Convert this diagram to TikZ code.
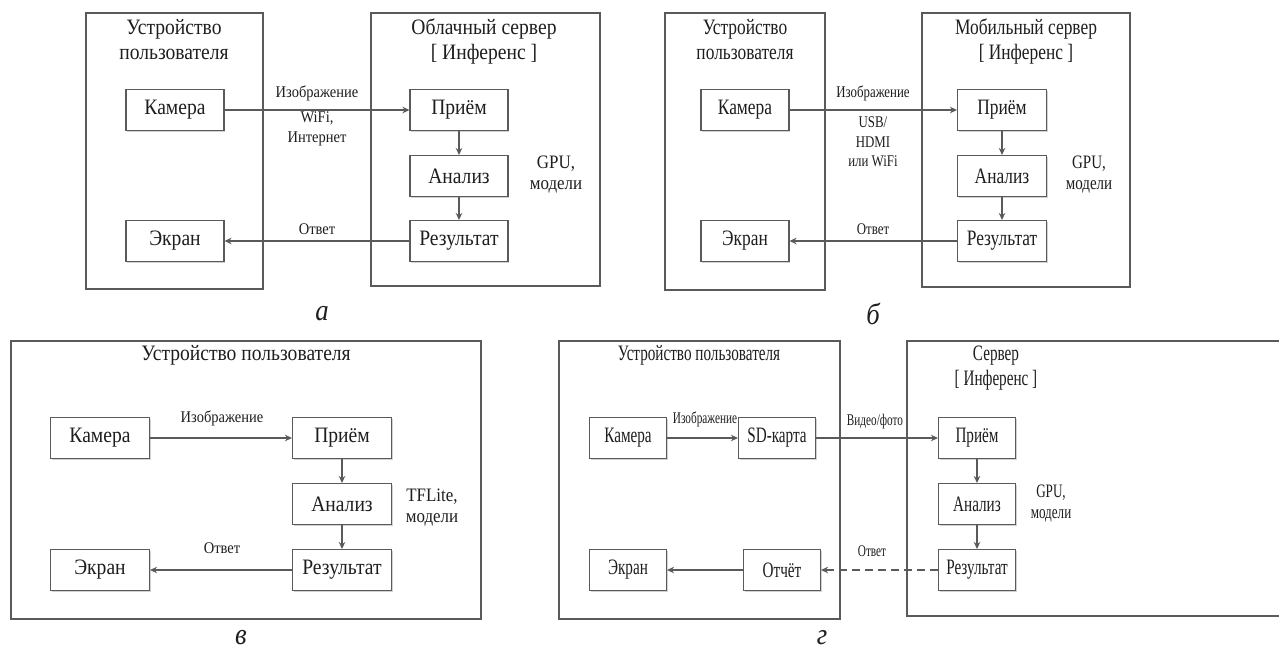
\documentclass[tikz,border=0pt]{standalone}
\usepackage{fontspec}
\setmainfont{Liberation Serif}[FakeStretch=0.89]
\newfontfamily\afam{Liberation Serif}[FakeStretch=0.89]
\newfontfamily\bfam{Liberation Serif}[FakeStretch=0.79]
\newfontfamily\gfam{Liberation Serif}[FakeStretch=0.69]
\usetikzlibrary{arrows.meta,shadows}
\definecolor{ln}{HTML}{5A5A5A}
\definecolor{tx}{HTML}{1E1E1E}
\let\pfam\afam
\tikzset{
  base/.style={draw=ln, line width=1.1pt, fill=white, inner sep=0pt,
    drop shadow={shadow xshift=1.2pt, shadow yshift=-1.2pt, fill=black!35, opacity=0.5}},
  box/.style={base, minimum height=41pt, text=tx, font=\pfam\fontsize{22}{24}\selectfont},
  frame/.style={base},
  ttl/.style={text=tx, align=center, font=\pfam\fontsize{22}{25}\selectfont},
  lbl/.style={text=tx, align=center, inner sep=0pt, font=\pfam\fontsize{16.3}{19.5}\selectfont},
  side/.style={text=tx, align=center, inner sep=0pt, font=\pfam\fontsize{19}{21}\selectfont},
  capt/.style={text=tx, font=\afam\fontsize{30}{32}\selectfont\itshape},
  arr/.style={draw=ln, line width=1.1pt, -{Stealth[length=7pt,width=6.5pt]}},
  dsh/.style={arr, dash pattern=on 8pt off 5pt},
}
\begin{document}
\begin{tikzpicture}[x=1pt,y=-1pt]
\useasboundingbox (0,0) rectangle (1279,653);
\clip (0,0) rectangle (1279,653);
\fill[white] (0,0) rectangle (1279,653);

% ---------- panel a ----------
\begin{scope}
\node[frame, minimum width=177pt, minimum height=276pt] (aU) at (174.5,151) {};
\node[frame, minimum width=229pt, minimum height=273pt] (aS) at (485.5,149.5) {};
\node[ttl] (aUt) at (174,40) {Устройство\\пользователя};
\node[ttl] (aSt) at (484,41) {Облачный сервер\\{[} Инференс {]}};
\node[box, minimum width=98pt] (acam) at (175,110) {Камера};
\node[box, minimum width=98pt] (ascr) at (175,241) {Экран};
\node[box, minimum width=98pt] (arec) at (459,110) {Приём};
\node[box, minimum width=98pt] (aana) at (459,176) {Анализ};
\node[box, minimum width=98pt] (ares) at (459,241) {Результат};
\draw[arr] (acam) -- (arec);
\draw[arr] (arec) -- (aana);
\draw[arr] (aana) -- (ares);
\draw[arr] (ares) -- (ascr);
\node[lbl] (al1) at (317,93) {Изображение};
\node[lbl] (al2) at (317,129) {WiFi,\\Интернет};
\node[lbl] (al3) at (317,229) {Ответ};
\node[side] (al4) at (556,175) {GPU,\\модели};
\node[capt] (acap) at (322,314) {а};
\end{scope}

% ---------- panel b ----------
\begin{scope}
\let\pfam\bfam
\node[frame, minimum width=160pt, minimum height=277pt] (bU) at (745,151.5) {};
\node[frame, minimum width=208pt, minimum height=274pt] (bS) at (1026,150) {};
\node[ttl] (bUt) at (745,40) {Устройство\\пользователя};
\node[ttl] (bSt) at (1026,41) {Мобильный сервер\\{[} Инференс {]}};
\node[box, minimum width=88pt] (bcam) at (745,110) {Камера};
\node[box, minimum width=88pt] (bscr) at (745,241) {Экран};
\node[box, minimum width=89pt] (brec) at (1002,110) {Приём};
\node[box, minimum width=89pt] (bana) at (1002,176) {Анализ};
\node[box, minimum width=89pt] (bres) at (1002,241) {Результат};
\draw[arr] (bcam) -- (brec);
\draw[arr] (brec) -- (bana);
\draw[arr] (bana) -- (bres);
\draw[arr] (bres) -- (bscr);
\node[lbl] (bl1) at (873,93) {Изображение};
\node[lbl] (bl2) at (873,142) {USB/\\HDMI\\или WiFi};
\node[lbl] (bl3) at (873,229) {Ответ};
\node[side] (bl4) at (1089,175) {GPU,\\модели};
\node[capt] (bcap) at (873,314) {б};
\end{scope}

% ---------- panel v ----------
\begin{scope}
\node[frame, minimum width=470pt, minimum height=278pt] (vU) at (246,480) {};
\node[ttl] (vUt) at (246,355) {Устройство пользователя};
\node[box, minimum width=99pt] (vcam) at (100,438) {Камера};
\node[box, minimum width=99pt] (vscr) at (100,570) {Экран};
\node[box, minimum width=99pt] (vrec) at (342,438) {Приём};
\node[box, minimum width=99pt] (vana) at (342,504) {Анализ};
\node[box, minimum width=99pt] (vres) at (342,570) {Результат};
\draw[arr] (vcam) -- (vrec);
\draw[arr] (vrec) -- (vana);
\draw[arr] (vana) -- (vres);
\draw[arr] (vres) -- (vscr);
\node[lbl] (vl1) at (222,418) {Изображение};
\node[lbl] (vl3) at (222,548) {Ответ};
\node[side] (vl4) at (432,508) {TFLite,\\модели};
\node[capt] (vcap) at (241,638) {в};
\end{scope}

% ---------- panel g ----------
\begin{scope}
\let\pfam\gfam
\node[frame, minimum width=281pt, minimum height=278pt] (gU) at (699.5,480) {};
\node[frame, minimum width=383pt, minimum height=275pt] (gS) at (1098.5,478.5) {};
\node[ttl] (gUt) at (699,355) {Устройство пользователя};
\node[ttl] (gSt) at (996,368) {Сервер\\{[} Инференс {]}};
\node[box, minimum width=77pt] (gcam) at (628,438) {Камера};
\node[box, minimum width=77pt] (gsd) at (777,438) {SD-карта};
\node[box, minimum width=77pt] (gscr) at (628,570) {Экран};
\node[box, minimum width=77pt] (grep) at (782,570) {Отчёт};
\node[box, minimum width=77pt] (grec) at (977,438) {Приём};
\node[box, minimum width=77pt] (gana) at (977,504) {Анализ};
\node[box, minimum width=77pt] (gres) at (977,570) {Результат};
\draw[arr] (gcam) -- (gsd);
\draw[arr] (gsd) -- (grec);
\draw[arr] (grec) -- (gana);
\draw[arr] (gana) -- (gres);
\draw[dsh] (gres) -- (grep);
\draw[arr] (grep) -- (gscr);
\node[lbl] (gl1) at (705,419) {Изображение};
\node[lbl] (gl2) at (875,422) {Видео/фото};
\node[lbl] (gl3) at (872,551) {Ответ};
\node[side] (gl4) at (1051,504) {GPU,\\модели};
\node[capt] (gcap) at (822,638) {г};
\end{scope}
\end{tikzpicture}
\end{document}
